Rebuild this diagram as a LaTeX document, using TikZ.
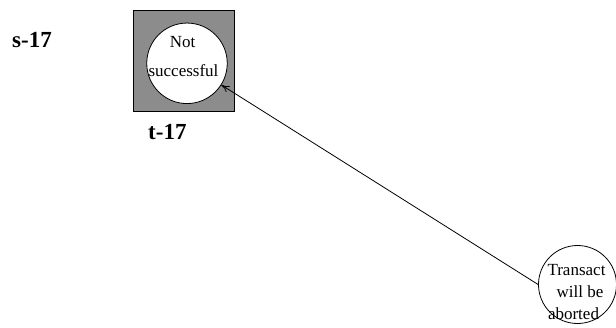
\documentclass[tikz,border=0pt]{standalone}
\usepackage{fontspec}
\setmainfont{Liberation Serif}
\usetikzlibrary{arrows.meta}
\definecolor{boxgray}{RGB}{140,140,140}
\begin{document}
\begin{tikzpicture}[x=1pt,y=-1pt,
  lbl/.style={font=\fontsize{23}{23}\selectfont\bfseries, inner sep=0pt, anchor=base west},
  circ/.style={circle, draw=black, line width=0.8pt, fill=white, inner sep=0pt},
  txt/.style={font=\fontsize{17}{17}\selectfont, inner sep=0pt, anchor=base},
  conn/.style={line width=0.8pt, -{To[length=8pt,width=7pt]}}]
\useasboundingbox (0,0) rectangle (616,327);
\node[draw=black, line width=0.8pt, fill=boxgray, minimum width=101pt, minimum height=101pt, inner sep=0pt] (box) at (183.8,61) {};
\node[circ, minimum size=80.5pt] (c1) at (187,63.3) {};
\node[txt] (t1) at (182.5,47) {Not};
\node[txt] (t2) at (183.5,76) {successful};
\node[lbl] (s17) at (12,47) {s-17};
\node[lbl] (t17) at (148,139) {t-17};
\node[circ, minimum size=78pt] (c2) at (577.5,284.5) {};
\node[txt] (u1) at (576.5,275) {Transact};
\node[txt] (u2) at (580,297) {will be};
\node[txt] (u3) at (573.5,319) {aborted};
\draw[conn] (c2.west) -- (c1);
\end{tikzpicture}
\end{document}
